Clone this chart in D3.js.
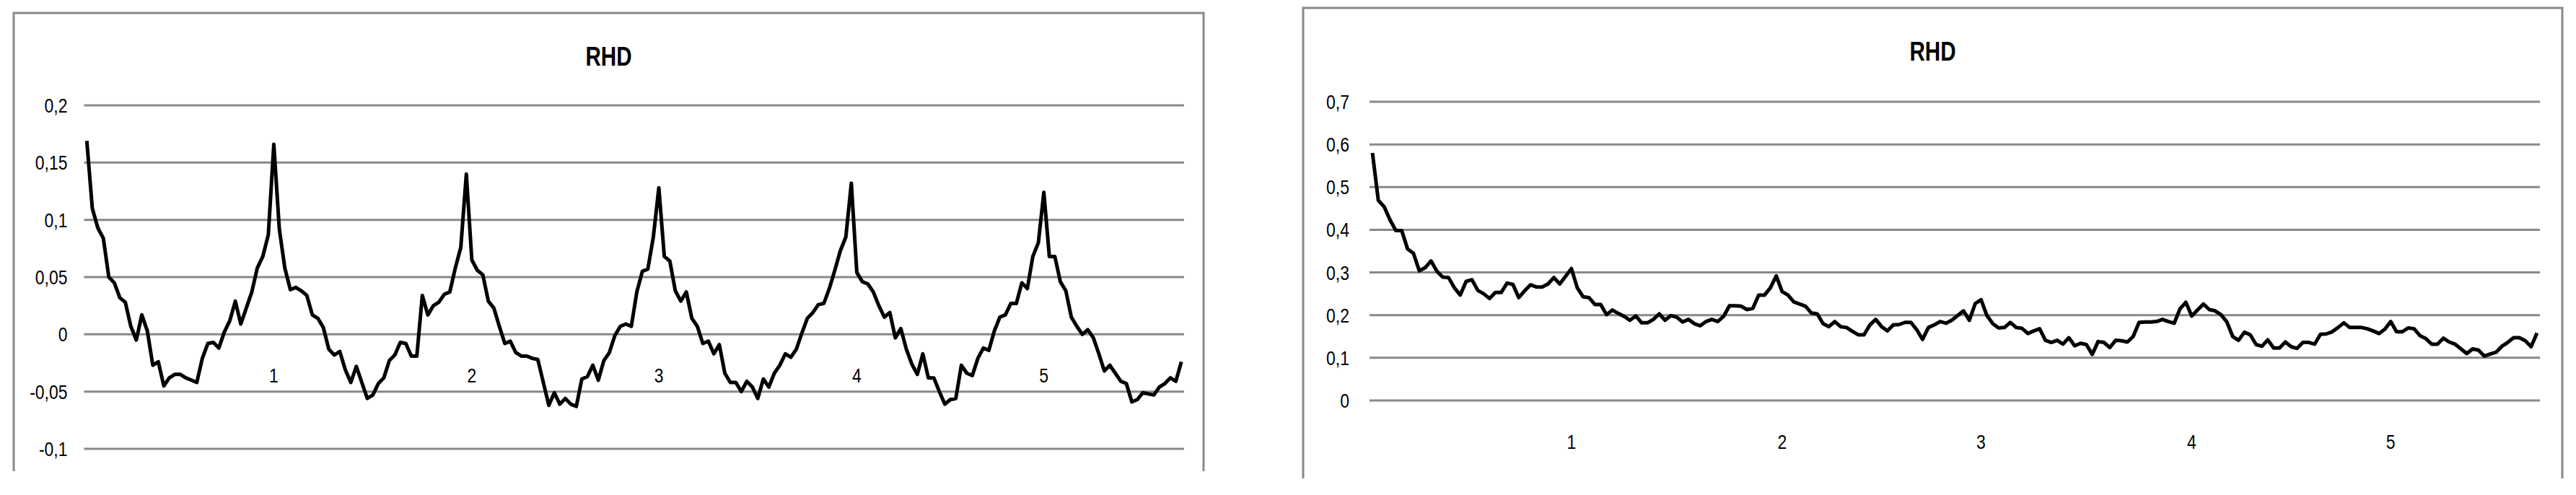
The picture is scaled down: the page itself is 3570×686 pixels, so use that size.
<!DOCTYPE html>
<html>
<head>
<meta charset="utf-8">
<script src="https://cdn.jsdelivr.net/npm/d3@7"></script>
<style>
  body { margin: 0; background: #fff; }
  svg { display: block; }
  .tick { font-family: "Liberation Sans", Arial, sans-serif; font-size: 28px; fill: #000; }
  .plotTitle { font-family: "Liberation Sans", Arial, sans-serif; font-size: 37px; font-weight: bold; fill: #000; }
</style>
</head>
<body>
<svg id="fig" width="3570" height="686"></svg>
<script>
// category labels on the x axis (index of the category they sit under)
const xLabels = ["1", "2", "3", "4", "5"]
const xLabelIdx = [34, 70, 104, 140, 174]
const nCat = 200

// left chart
const ticksA = [0.2, 0.15, 0.1, 0.05, 0, -0.05, -0.1]
const tickTextA = ["0,2", "0,15", "0,1", "0,05", "0", "-0,05", "-0,1"]
const rhdA = [
  0.169, 0.110, 0.093, 0.084, 0.050, 0.045, 0.032, 0.028, 0.007, -0.005,
  0.017, 0.003, -0.027, -0.024, -0.045, -0.038, -0.035, -0.035, -0.038, -0.040,
  -0.042, -0.021, -0.008, -0.007, -0.012, 0.002, 0.012, 0.029, 0.009, 0.023,
  0.037, 0.058, 0.068, 0.087, 0.166, 0.092, 0.058, 0.039, 0.041, 0.038,
  0.034, 0.017, 0.014, 0.006, -0.013, -0.018, -0.015, -0.031, -0.042, -0.028,
  -0.042, -0.056, -0.053, -0.043, -0.038, -0.023, -0.018, -0.007, -0.008, -0.019,
  -0.019, 0.034, 0.017, 0.025, 0.028, 0.035, 0.037, 0.058, 0.076, 0.140,
  0.065, 0.056, 0.052, 0.029, 0.023, 0.007, -0.008, -0.006, -0.016, -0.019,
  -0.019, -0.021, -0.022, -0.042, -0.062, -0.051, -0.061, -0.056, -0.061, -0.063,
  -0.039, -0.037, -0.027, -0.040, -0.023, -0.016, -0.001, 0.007, 0.009, 0.007,
  0.037, 0.055, 0.057, 0.085, 0.128, 0.068, 0.064, 0.038, 0.029, 0.037,
  0.014, 0.007, -0.008, -0.006, -0.017, -0.009, -0.034, -0.042, -0.042, -0.050,
  -0.041, -0.046, -0.056, -0.039, -0.046, -0.034, -0.027, -0.017, -0.020, -0.013,
  0.001, 0.014, 0.019, 0.026, 0.027, 0.040, 0.056, 0.073, 0.085, 0.132,
  0.054, 0.046, 0.044, 0.037, 0.025, 0.015, 0.019, -0.003, 0.005, -0.013,
  -0.026, -0.035, -0.017, -0.038, -0.038, -0.050, -0.061, -0.057, -0.056, -0.027,
  -0.034, -0.036, -0.021, -0.012, -0.014, 0.003, 0.015, 0.017, 0.027, 0.027,
  0.045, 0.040, 0.068, 0.080, 0.124, 0.068, 0.068, 0.046, 0.038, 0.015,
  0.007, 0.000, 0.004, -0.003, -0.017, -0.032, -0.027, -0.034, -0.041, -0.043,
  -0.059, -0.057, -0.051, -0.052, -0.053, -0.046, -0.043, -0.038, -0.041, -0.024
]

// right chart
const ticksB = [0.7, 0.6, 0.5, 0.4, 0.3, 0.2, 0.1, 0]
const tickTextB = ["0,7", "0,6", "0,5", "0,4", "0,3", "0,2", "0,1", "0"]
const rhdB = [
  0.580, 0.469, 0.454, 0.423, 0.398, 0.398, 0.355, 0.345, 0.304, 0.311,
  0.327, 0.303, 0.289, 0.288, 0.264, 0.247, 0.279, 0.283, 0.258, 0.250,
  0.239, 0.253, 0.253, 0.275, 0.272, 0.241, 0.257, 0.271, 0.266, 0.266,
  0.273, 0.288, 0.273, 0.291, 0.309, 0.264, 0.243, 0.241, 0.225, 0.225,
  0.201, 0.212, 0.204, 0.197, 0.188, 0.198, 0.182, 0.182, 0.190, 0.203,
  0.188, 0.199, 0.195, 0.184, 0.190, 0.180, 0.175, 0.185, 0.190, 0.185,
  0.197, 0.222, 0.222, 0.221, 0.213, 0.216, 0.247, 0.247, 0.264, 0.292,
  0.255, 0.247, 0.231, 0.226, 0.221, 0.205, 0.203, 0.180, 0.173, 0.185,
  0.173, 0.171, 0.162, 0.154, 0.154, 0.177, 0.190, 0.173, 0.163, 0.177,
  0.178, 0.183, 0.183, 0.166, 0.143, 0.171, 0.177, 0.185, 0.181, 0.188,
  0.199, 0.210, 0.188, 0.227, 0.236, 0.199, 0.180, 0.170, 0.171, 0.183,
  0.171, 0.169, 0.157, 0.163, 0.168, 0.141, 0.136, 0.141, 0.132, 0.147,
  0.128, 0.134, 0.131, 0.108, 0.138, 0.136, 0.124, 0.141, 0.140, 0.137,
  0.150, 0.183, 0.184, 0.184, 0.185, 0.190, 0.185, 0.181, 0.215, 0.230,
  0.198, 0.212, 0.226, 0.213, 0.210, 0.201, 0.184, 0.150, 0.141, 0.160,
  0.154, 0.131, 0.127, 0.142, 0.123, 0.123, 0.137, 0.126, 0.122, 0.136,
  0.136, 0.132, 0.155, 0.156, 0.161, 0.171, 0.182, 0.171, 0.171, 0.171,
  0.168, 0.163, 0.157, 0.167, 0.185, 0.161, 0.161, 0.170, 0.168, 0.152,
  0.145, 0.132, 0.132, 0.146, 0.137, 0.132, 0.121, 0.110, 0.121, 0.118,
  0.104, 0.109, 0.113, 0.127, 0.136, 0.147, 0.147, 0.140, 0.126, 0.158
]

const gridColor = "#898989"

function rhd_chart(svg, values, ticks, tickText, box, plot) {
  let g = svg.append("g")

  // frame (bottom edge is cut off in the source picture)
  g.append("path")
    .attr("d", `M${box.x0},${box.y1} L${box.x0},${box.y0} L${box.x1},${box.y0} L${box.x1},${box.y1}`)
    .attr("fill", "none").attr("stroke", gridColor).attr("stroke-width", 3)

  let xScale = d3.scaleLinear().domain([0, nCat]).range([plot.x0, plot.x1])
  let yScale = d3.scaleLinear().domain(plot.domain).range([plot.yb, plot.yt])

  // gridlines
  g.selectAll(".grid").data(ticks).enter()
    .append("line").attr("class", "grid")
    .attr("x1", plot.x0).attr("x2", plot.x1)
    .attr("y1", d => yScale(d)).attr("y2", d => yScale(d))
    .attr("stroke", gridColor).attr("stroke-width", 3)

  // y tick labels (narrow font look)
  g.selectAll(".ylab").data(ticks).enter()
    .append("text").attr("class", "tick")
    .attr("text-anchor", "end")
    .attr("transform", d => `translate(${plot.x0 - plot.labGap},${yScale(d) + 10}) scale(0.82,1)`)
    .text((d, i) => tickText[i])

  // x category labels
  g.selectAll(".xlab").data(xLabels).enter()
    .append("text").attr("class", "tick")
    .attr("text-anchor", "middle")
    .attr("transform", (d, i) => `translate(${xScale(xLabelIdx[i] + 0.5)},${yScale(0) + 67}) scale(0.82,1)`)
    .text(d => d)

  // series
  let line = d3.line()
    .x((d, i) => xScale(i + 0.5))
    .y(d => yScale(d))
  g.append("path").datum(values)
    .attr("d", line)
    .attr("fill", "none").attr("stroke", "#000")
    .attr("stroke-width", 5).attr("stroke-linejoin", "round")

  // title
  g.append("text").attr("class", "plotTitle")
    .attr("text-anchor", "middle")
    .attr("transform", `translate(${(box.x0 + box.x1) / 2},${box.y0 + 73}) scale(0.8,1)`)
    .text("RHD")
}

let svg = d3.select("#fig")
svg.append("rect").attr("width", 3570).attr("height", 686).attr("fill", "#fff")

rhd_chart(svg, rhdA, ticksA, tickTextA,
  {x0: 19, y0: 18, x1: 1668, y1: 653},
  {x0: 116.5, x1: 1641, yt: 146, yb: 622, domain: [-0.1, 0.2], labGap: 23})

rhd_chart(svg, rhdB, ticksB, tickTextB,
  {x0: 1806, y0: 11, x1: 3551, y1: 663},
  {x0: 1898, x1: 3520, yt: 141, yb: 555, domain: [0, 0.7], labGap: 28})
</script>
</body>
</html>
